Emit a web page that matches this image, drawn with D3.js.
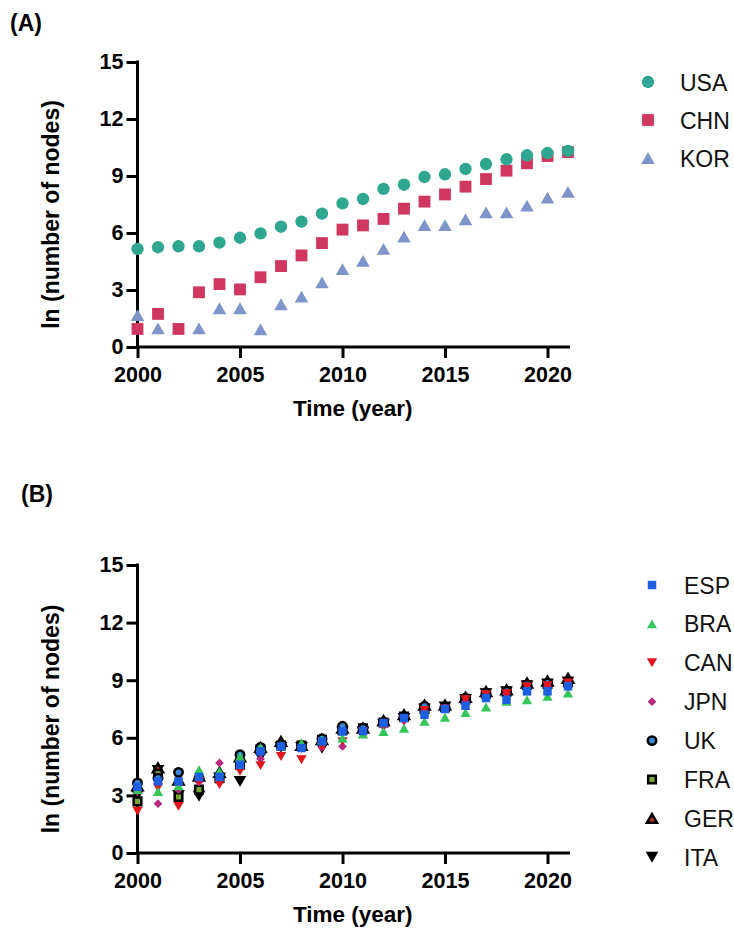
<!DOCTYPE html>
<html>
<head>
<meta charset="utf-8">
<script src="https://cdn.jsdelivr.net/npm/d3@7"></script>
<style>
  html, body { margin: 0; padding: 0; background: #fff; }
  svg { display: block; font-family: "Liberation Sans", Arial, sans-serif; }
</style>
</head>
<body>
<svg id="chart" width="734" height="929"></svg>
<script>
// Years shared by both panels
const years = [2000,2001,2002,2003,2004,2005,2006,2007,2008,2009,2010,2011,2012,2013,2014,2015,2016,2017,2018,2019,2020,2021];
const yTicks = [0, 3, 6, 9, 12, 15];
const xTicks = [2000, 2005, 2010, 2015, 2020];

// Panel A: ln(number of nodes)
const usa = [5.16,5.25,5.30,5.30,5.49,5.75,5.98,6.33,6.60,7.02,7.56,7.79,8.32,8.54,8.95,9.09,9.37,9.63,9.88,10.09,10.21,10.32];
const chn = [0.95,1.74,0.95,2.88,3.31,3.03,3.67,4.26,4.82,5.47,6.18,6.40,6.74,7.28,7.65,8.03,8.44,8.84,9.28,9.67,10.05,10.26];
const kor = [1.68,0.98,null,0.98,2.04,2.04,0.93,2.25,2.65,3.40,4.10,4.53,5.16,5.81,6.42,6.42,6.72,7.08,7.08,7.44,7.86,8.17];

// Panel B: ln(number of nodes)
const esp = [3.45,3.73,3.73,3.96,3.96,4.60,5.29,5.55,5.47,5.81,6.33,6.35,6.77,7.03,7.20,7.50,7.67,8.07,7.98,8.42,8.42,8.68];
const bra = [3.30,3.20,3.50,4.34,4.25,5.00,5.48,5.60,5.73,5.90,5.99,6.20,6.33,6.50,6.86,7.07,7.32,7.60,7.90,7.98,8.16,8.33];
const can = [2.17,3.40,2.43,3.73,3.56,4.25,4.55,5.03,4.86,5.55,5.80,6.30,6.60,6.90,7.43,7.50,7.98,8.24,8.30,8.65,8.71,8.85];
const jpn = [3.20,2.57,3.30,3.70,4.69,4.60,4.90,5.50,5.50,5.50,5.55,6.30,6.60,6.90,7.40,7.50,7.90,8.20,8.30,8.60,8.70,8.85];
const uk  = [3.65,3.90,4.20,3.90,4.00,5.12,5.50,5.60,5.60,5.95,6.60,6.50,6.80,7.10,7.64,7.60,8.07,8.33,8.42,8.77,8.85,8.94];
const fra = [2.69,4.13,2.92,3.30,3.90,4.60,5.40,5.60,5.60,5.90,6.40,6.50,6.80,7.10,7.50,7.60,8.00,8.30,8.40,8.75,8.80,8.90];
const ger = [3.50,4.43,3.80,4.00,4.20,5.00,5.50,5.81,5.60,5.90,6.50,6.50,6.90,7.20,7.70,7.70,8.10,8.40,8.50,8.85,8.95,9.10];
const ita = [3.00,4.30,3.00,2.95,3.90,3.73,5.00,5.50,5.50,5.45,6.30,6.30,6.70,7.00,7.50,7.60,8.00,8.30,8.40,8.70,8.80,8.90];

const svg = d3.select("#chart");

// Marker styles: shape, area, fill, stroke, rotation
const seriesA = [
  { name: "USA", values: usa, type: d3.symbolCircle,   size: 120, fill: "#2fa68f", stroke: "none", sw: 0, rot: 0 },
  { name: "CHN", values: chn, type: d3.symbolSquare,   size: 140, fill: "#d0375f", stroke: "none", sw: 0, rot: 0 },
  { name: "KOR", values: kor, type: d3.symbolTriangle, size: 80,  fill: "#7f95c9", stroke: "none", sw: 0, rot: 0 }
];
const seriesB = [
  { name: "ESP", values: esp, type: d3.symbolSquare,   size: 72, fill: "#1c5fe0", stroke: "none", sw: 0,   rot: 0 },
  { name: "BRA", values: bra, type: d3.symbolTriangle, size: 46, fill: "#35c65a", stroke: "none", sw: 0,   rot: 0 },
  { name: "CAN", values: can, type: d3.symbolTriangle, size: 46, fill: "#e3141b", stroke: "none", sw: 0,   rot: 180 },
  { name: "JPN", values: jpn, type: d3.symbolSquare,   size: 38, fill: "#b52a80", stroke: "none", sw: 0,   rot: 45 },
  { name: "UK",  values: uk,  type: d3.symbolCircle,   size: 56, fill: "#3a88d8", stroke: "#000", sw: 2.5, rot: 0 },
  { name: "FRA", values: fra, type: d3.symbolSquare,   size: 58, fill: "#78a834", stroke: "#000", sw: 2.5, rot: 0 },
  { name: "GER", values: ger, type: d3.symbolTriangle, size: 44, fill: "#c0392b", stroke: "#000", sw: 2.5, rot: 0 },
  { name: "ITA", values: ita, type: d3.symbolTriangle, size: 70, fill: "#000",    stroke: "none", sw: 0,   rot: 180 }
];

function markerPath(s) {
  return d3.symbol().type(s.type).size(s.size)();
}
function markerTransform(s, x, y) {
  // triangles are centred on their centroid; nudge them to their box centre
  let dy = 0;
  if (s.type === d3.symbolTriangle) {
    const side = Math.sqrt(s.size / (Math.sqrt(3) / 4));
    dy = side * Math.sqrt(3) / 12 * (s.rot === 180 ? -1 : 1);
  }
  return `translate(${x},${y + dy}) rotate(${s.rot})`;
}

function drawPanel(cfg) {
  const g = svg.append("g");
  const x = d3.scaleLinear().domain([2000, 2021]).range([cfg.left, cfg.right]);
  const y = d3.scaleLinear().domain([0, 15]).range([cfg.bottom, cfg.top]);

  // y axis
  const yAxis = g.append("g")
    .attr("transform", `translate(${cfg.left},0)`)
    .call(d3.axisLeft(y).tickValues(yTicks).tickSize(11).tickPadding(3).tickFormat(d3.format("d")));
  // x axis
  const xAxis = g.append("g")
    .attr("transform", `translate(0,${cfg.bottom})`)
    .call(d3.axisBottom(x).tickValues(xTicks).tickSize(11).tickPadding(9).tickFormat(d3.format("d")));

  [yAxis, xAxis].forEach(a => {
    a.select(".domain").attr("stroke", "#000").attr("stroke-width", 3);
    a.selectAll(".tick line").attr("stroke", "#000").attr("stroke-width", 3);
    a.selectAll(".tick text")
      .attr("fill", "#000")
      .style("font-size", "21.5px")
      .style("font-weight", "bold");
  });
  xAxis.select(".domain").attr("d", `M${cfg.left - 1.5},0H${cfg.right + 2}`);
  yAxis.select(".domain").attr("d", `M0,${cfg.top - 1.5}V${cfg.bottom + 1.5}`);

  // axis titles
  g.append("text")
    .attr("x", (cfg.left + cfg.right) / 2)
    .attr("y", cfg.bottom + 69)
    .attr("text-anchor", "middle")
    .style("font-size", "22.5px").style("font-weight", "bold")
    .text("Time (year)");
  g.append("text")
    .attr("transform", `translate(${cfg.left - 79},${(cfg.top + cfg.bottom) / 2 + 10}) rotate(-90)`)
    .attr("text-anchor", "middle")
    .style("font-size", "23px").style("font-weight", "bold")
    .text("ln (number of nodes)");

  // panel letter
  g.append("text")
    .attr("x", cfg.labelX).attr("y", cfg.labelY)
    .style("font-size", "23px").style("font-weight", "bold")
    .text(cfg.label);

  // points: first series ends up on top
  const plot = g.append("g");
  cfg.series.slice().reverse().forEach(s => {
    const pts = years.map((yr, i) => ({ yr, v: s.values[i] })).filter(d => d.v != null);
    plot.append("g").selectAll("path")
      .data(pts)
      .join("path")
      .attr("d", markerPath(s))
      .attr("transform", d => markerTransform(s, x(d.yr), y(d.v)))
      .attr("fill", s.fill)
      .attr("stroke", s.stroke)
      .attr("stroke-width", s.sw)
      .attr("stroke-linejoin", "miter");
  });

  // legend
  const leg = g.append("g");
  cfg.series.forEach((s, i) => {
    const ly = cfg.legendY + i * cfg.legendStep;
    leg.append("path")
      .attr("d", markerPath(s))
      .attr("transform", markerTransform(s, cfg.legendX, ly))
      .attr("fill", s.fill)
      .attr("stroke", s.stroke)
      .attr("stroke-width", s.sw);
    leg.append("text")
      .attr("x", cfg.legendX + 32)
      .attr("y", ly + 8.5)
      .style("font-size", "23px")
      .attr("fill", "#111")
      .text(s.name);
  });
}

drawPanel({
  label: "(A)", labelX: 10, labelY: 31,
  left: 137.5, right: 568, top: 62, bottom: 347,
  series: seriesA,
  legendX: 648, legendY: 82, legendStep: 38
});

drawPanel({
  label: "(B)", labelX: 21, labelY: 502,
  left: 137.5, right: 568, top: 565, bottom: 853,
  series: seriesB,
  legendX: 652, legendY: 585, legendStep: 38.9
});
</script>
</body>
</html>
